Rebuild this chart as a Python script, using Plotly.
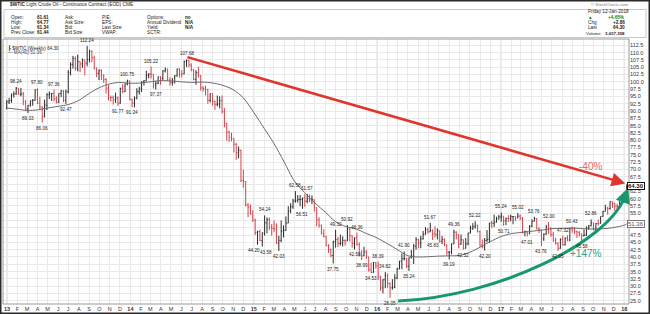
import plotly.graph_objects as go
import pandas as pd

W, H = 650, 314

# ---------------- data (weekly bars, Monday dates) ----------------
first_week = "2012-12-31"

open_ = [
    90.8,
    93.1, 93.6, 95.5, 95.9, 97.8, 95.7, 95.9, 93.1, 90.7, 92.0, 93.4, 93.7, 97.2, 92.7, 91.3, 88.0, 92.0, 95.6, 96.0, 96.0, 94.2, 92.9, 96.0, 96.9, 93.7, 96.6,
    103.2, 106.0, 108.0, 104.7, 106.9, 106.1, 107.5, 106.4, 107.7, 110.5, 108.2, 104.7, 102.9, 103.8, 102.0, 100.8, 97.8, 94.6, 94.6, 93.8, 94.4, 92.7, 97.7, 96.6, 99.3, 100.3,
    94.0, 92.7, 94.4, 96.6, 97.5, 99.9, 100.3, 102.2, 102.6, 102.6, 98.9, 99.5, 101.7, 101.1, 103.7, 104.3, 100.6, 99.8, 100.0, 102.0, 104.4, 102.7, 102.7, 106.9, 107.3, 105.7,
    104.1, 100.8, 103.1, 102.1, 97.9, 97.6, 97.4, 93.6, 96.0, 93.3, 92.3, 92.4, 93.5, 89.7, 85.8, 82.8, 81.0, 80.5, 78.6, 75.8, 76.5, 66.2, 65.8, 57.8, 57.1, 54.7,
    52.7, 48.4, 48.7, 45.6, 48.2, 51.7, 52.8, 50.3, 49.8, 49.6, 44.8, 45.7, 48.9, 49.1, 51.6, 55.7, 57.2, 59.2, 59.4, 59.7, 59.7, 60.3, 59.1, 60.0, 59.6, 59.6,
    56.9, 52.7, 50.9, 48.1, 47.1, 43.9, 42.5, 40.5, 45.2, 46.0, 44.6, 44.7, 45.7, 45.5, 49.6, 47.3, 44.6, 46.6, 44.3, 40.7, 40.4, 41.7, 40.0, 35.6, 34.7, 38.1,
    37.0, 33.2, 29.4, 32.2, 33.6, 30.9, 29.4, 29.6, 32.8, 35.9, 38.5, 39.4, 39.5, 36.8, 39.7, 40.4, 43.7, 45.9, 44.7, 46.2, 47.8, 49.3, 48.6, 49.1, 48.0, 47.6,
    49.0, 45.4, 46.0, 44.2, 41.6, 41.8, 44.5, 48.5, 47.6, 44.4, 45.9, 43.0, 44.5, 48.2, 49.8, 50.4, 50.9, 48.7, 44.1, 43.4, 45.7, 46.1, 51.7, 51.5, 51.9, 53.0,
    53.7, 54.0, 52.4, 53.2, 53.2, 53.8, 53.9, 53.4, 54.0, 53.3, 48.5, 48.8, 48.0, 50.6, 52.2, 53.2, 49.6, 49.3, 46.2, 47.8, 50.3, 49.8, 47.7, 45.8, 44.7, 43.0,
    46.0, 44.2, 46.5, 45.8, 49.7, 49.6, 48.8, 48.5, 47.9, 47.3, 47.5, 49.9, 50.7, 51.7, 49.3, 51.5, 51.5, 53.9, 55.6, 56.7, 56.6, 58.9, 58.4, 57.4, 57.3, 58.5,
    60.4, 61.61,
]
high = [
    93.8,
    94.5, 96.0, 96.7, 98.24, 97.8, 97.9, 96.5, 93.8, 92.0, 93.6, 94.1, 97.4, 97.80, 94.9, 91.6, 93.9, 96.1, 96.7, 96.1, 97.36, 95.0, 96.0, 97.2, 97.1, 97.3, 104.0,
    106.7, 108.9, 108.7, 109.3, 107.0, 108.0, 107.5, 112.24, 111.0, 110.7, 108.9, 104.9, 104.3, 104.3, 102.6, 101.3, 98.9, 95.3, 95.3, 96.3, 95.0, 98.0, 99.2, 99.4, 100.75, 100.4,
    94.2, 95.0, 97.8, 98.3, 100.2, 100.6, 103.8, 103.0, 105.22, 102.6, 100.3, 101.8, 101.9, 104.0, 104.9, 104.5, 101.6, 101.3, 102.3, 104.5, 104.6, 104.0, 107.3, 107.68, 107.5, 106.3,
    104.4, 104.0, 105.2, 102.3, 98.5, 98.7, 97.6, 96.0, 96.0, 93.6, 95.3, 95.0, 95.3, 91.0, 86.0, 83.3, 82.6, 80.6, 79.1, 77.8, 76.8, 69.9, 66.0, 58.5, 58.0, 56.0,
    53.1, 49.0, 49.3, 48.4, 54.24, 53.6, 53.5, 51.3, 52.5, 51.5, 47.3, 52.5, 50.8, 53.9, 57.4, 58.4, 59.9, 62.58, 61.2, 61.2, 60.3, 61.5, 61.57, 61.4, 61.1, 59.7,
    57.0, 53.6, 51.1, 49.5, 47.2, 44.4, 42.9, 45.6, 49.32, 46.9, 47.7, 47.1, 46.0, 50.92, 49.8, 47.4, 46.7, 48.36, 45.0, 42.3, 43.5, 42.4, 40.0, 38.0, 38.3, 38.2,
    38.39, 33.6, 32.4, 34.82, 34.3, 31.3, 32.4, 34.1, 36.3, 38.7, 41.2, 41.90, 39.7, 39.8, 42.4, 44.5, 46.8, 46.2, 47.3, 48.9, 50.21, 50.0, 51.67, 49.4, 50.5, 49.8,
    49.0, 47.2, 46.4, 44.3, 42.0, 44.6, 49.36, 48.8, 47.8, 47.7, 46.0, 46.5, 48.3, 50.7, 51.6, 52.22, 51.0, 49.0, 46.0, 46.5, 49.2, 51.7, 52.4, 54.5, 53.8, 54.4,
    55.24, 54.0, 53.5, 54.3, 54.5, 54.0, 53.9, 55.02, 54.6, 53.7, 49.0, 48.9, 50.9, 52.9, 53.76, 53.3, 50.2, 49.3, 48.1, 51.0, 52.00, 50.2, 48.6, 46.6, 45.0, 46.4,
    47.32, 46.7, 47.4, 50.0, 50.43, 50.2, 49.0, 48.8, 48.0, 49.4, 50.5, 51.0, 52.86, 51.7, 51.6, 52.8, 53.9, 55.8, 57.9, 57.2, 59.0, 59.0, 58.5, 58.2, 59.1, 60.5,
    62.2, 64.77,
]
low = [
    90.6,
    92.4, 92.8, 94.6, 95.5, 95.7, 95.0, 92.0, 90.1, 89.33, 91.5, 91.8, 93.5, 92.4, 90.3, 86.06, 87.8, 90.3, 94.1, 93.4, 93.3, 92.6, 92.7, 94.8, 93.0, 92.47, 96.0,
    102.2, 104.5, 103.8, 103.6, 103.3, 104.8, 102.2, 105.3, 106.6, 106.7, 104.2, 101.6, 100.6, 100.6, 99.6, 96.0, 93.6, 93.2, 92.2, 92.8, 91.77, 92.5, 96.1, 96.5, 98.8, 93.6,
    91.24, 91.3, 94.0, 95.6, 96.5, 98.7, 100.2, 101.2, 101.1, 97.7, 97.37, 99.2, 99.0, 100.6, 103.2, 100.5, 98.7, 98.7, 99.4, 101.8, 101.4, 101.5, 102.6, 105.1, 105.0, 103.6,
    100.5, 99.0, 101.4, 97.0, 96.6, 95.3, 92.5, 92.9, 91.8, 90.4, 91.6, 90.9, 89.2, 84.4, 79.8, 79.4, 79.6, 75.8, 73.3, 73.8, 65.7, 63.7, 57.3, 53.6, 54.5, 52.0,
    47.5, 44.20, 45.5, 43.58, 47.3, 48.1, 49.2, 47.3, 48.6, 44.4, 42.03, 45.0, 46.7, 49.0, 51.6, 55.0, 56.5, 58.6, 58.6, 57.4, 56.51, 57.2, 58.4, 58.8, 58.1, 55.6,
    50.5, 50.1, 47.7, 46.7, 43.7, 41.4, 39.9, 37.75, 43.2, 43.4, 43.9, 43.6, 43.9, 45.5, 45.3, 43.2, 42.58, 43.9, 40.2, 38.99, 40.3, 39.4, 35.0, 34.53, 34.6, 36.0,
    32.1, 28.4, 27.56, 29.3, 29.5, 26.05, 28.8, 29.3, 32.4, 35.8, 35.8, 38.8, 36.2, 35.24, 39.5, 37.6, 42.5, 43.0, 43.0, 46.0, 47.6, 48.0, 48.5, 45.83, 46.7, 46.0,
    44.9, 44.4, 43.7, 40.6, 39.19, 40.9, 44.4, 46.0, 43.0, 44.2, 42.52, 42.9, 44.0, 48.1, 49.3, 49.7, 48.4, 43.6, 43.0, 42.20, 45.1, 44.8, 49.9, 50.3, 51.8, 52.9,
    52.1, 50.71, 50.9, 52.0, 52.2, 51.2, 52.3, 53.3, 52.6, 48.0, 47.1, 47.01, 47.8, 50.2, 52.2, 49.4, 48.2, 43.76, 45.5, 47.6, 47.9, 46.9, 45.2, 44.2, 42.05, 42.8,
    43.8, 43.9, 45.4, 45.4, 48.3, 47.8, 46.5, 47.0, 45.58, 47.1, 47.2, 49.3, 50.5, 49.1, 49.2, 50.7, 51.4, 53.8, 55.6, 54.5, 56.2, 56.8, 55.8, 56.1, 56.8, 58.1,
    59.9, 61.34,
]
close = [
    93.09,
    93.56, 95.56, 95.88, 97.77, 95.72, 95.86, 93.13, 90.68, 91.95, 93.45, 93.71, 97.23, 92.70, 91.29, 88.01, 92.00, 95.61, 96.04, 96.02, 94.15, 92.90, 96.03, 96.90, 93.69, 96.56, 103.22,
    105.95, 108.05, 104.70, 106.94, 106.10, 107.46, 106.42, 107.65, 110.53, 108.21, 104.67, 102.87, 103.84, 102.02, 100.81, 97.85, 94.61, 94.60, 93.84, 94.44, 92.72, 97.65, 96.60, 99.32, 100.32, 93.96,
    92.72, 94.37, 96.64, 97.49, 99.88, 100.30, 102.20, 102.59, 102.58, 98.89, 99.46, 101.67, 101.14, 103.74, 104.30, 100.60, 99.76, 99.99, 102.02, 104.35, 102.71, 102.66, 106.91, 107.26, 105.74, 104.06,
    100.83, 103.13, 102.09, 97.88, 97.65, 97.35, 93.65, 95.96, 93.29, 92.27, 92.41, 93.54, 89.74, 85.82, 82.75, 81.01, 80.54, 78.65, 75.82, 76.51, 66.15, 65.84, 57.81, 57.13, 54.73, 52.69,
    48.36, 48.69, 45.59, 48.24, 51.69, 52.78, 50.34, 49.76, 49.61, 44.84, 45.72, 48.87, 49.14, 51.64, 55.74, 57.15, 59.15, 59.39, 59.69, 59.72, 60.30, 59.13, 59.96, 59.61, 59.63, 56.93,
    52.74, 50.89, 48.14, 47.12, 43.87, 42.50, 40.45, 45.22, 46.05, 44.63, 44.68, 45.70, 45.54, 49.63, 47.26, 44.60, 46.59, 44.29, 40.74, 40.39, 41.71, 39.97, 35.62, 34.73, 38.10, 37.04,
    33.16, 29.42, 32.19, 33.62, 30.89, 29.44, 29.64, 32.78, 35.92, 38.50, 39.44, 39.46, 36.79, 39.72, 40.36, 43.73, 45.92, 44.66, 46.21, 47.75, 49.33, 48.62, 49.07, 47.98, 47.64, 48.99,
    45.41, 45.95, 44.19, 41.60, 41.80, 44.49, 48.52, 47.64, 44.44, 45.88, 43.03, 44.48, 48.24, 49.81, 50.35, 50.85, 48.70, 44.07, 43.41, 45.69, 46.06, 51.68, 51.50, 51.90, 53.02, 53.72,
    53.99, 52.37, 53.22, 53.17, 53.83, 53.86, 53.40, 53.99, 53.33, 48.49, 48.78, 47.97, 50.60, 52.24, 53.18, 49.62, 49.33, 46.22, 47.84, 50.33, 49.80, 47.66, 45.83, 44.74, 43.01, 46.04,
    44.23, 46.54, 45.77, 49.71, 49.58, 48.82, 48.51, 47.87, 47.29, 47.48, 49.89, 50.66, 51.67, 49.29, 51.45, 51.47, 53.90, 55.64, 56.74, 56.55, 58.95, 58.36, 57.36, 57.30, 58.47, 60.42,
    61.44, 64.30,
]

# 40-week moving average (month starts)
ma_dates = [
    "2013-01-01", "2013-02-01", "2013-03-01", "2013-04-01", "2013-05-01", "2013-06-01", "2013-07-01", "2013-08-01", "2013-09-01", "2013-10-01", "2013-11-01", "2013-12-01",
    "2014-01-01", "2014-02-01", "2014-03-01", "2014-04-01", "2014-05-01", "2014-06-01", "2014-07-01", "2014-08-01", "2014-09-01", "2014-10-01", "2014-11-01", "2014-12-01",
    "2015-01-01", "2015-02-01", "2015-03-01", "2015-04-01", "2015-05-01", "2015-06-01", "2015-07-01", "2015-08-01", "2015-09-01", "2015-10-01", "2015-11-01", "2015-12-01",
    "2016-01-01", "2016-02-01", "2016-03-01", "2016-04-01", "2016-05-01", "2016-06-01", "2016-07-01", "2016-08-01", "2016-09-01", "2016-10-01", "2016-11-01", "2016-12-01",
    "2017-01-01", "2017-02-01", "2017-03-01", "2017-04-01", "2017-05-01", "2017-06-01", "2017-07-01", "2017-08-01", "2017-09-01", "2017-10-01", "2017-11-01", "2017-12-01",
    "2018-01-01", "2018-01-08",
]
ma_values = [
    91.0, 90.6, 90.2, 90.4, 91.0, 91.6, 92.2, 93.6, 96.0, 98.0, 99.3, 99.8,
    99.5, 99.6, 100.0, 100.4, 100.3, 100.0, 99.8, 99.9, 99.6, 98.8, 97.3, 94.5,
    89.5, 84.0, 79.0, 72.5, 66.0, 62.0, 58.5, 55.3, 52.0, 50.4, 49.5, 48.0,
    46.5, 44.5, 42.5, 40.4, 40.0, 40.1, 40.3, 40.4, 40.5, 41.6, 43.4, 45.3,
    47.0, 48.0, 48.4, 48.8, 49.2, 49.7, 49.8, 49.9, 49.7, 49.6, 49.7, 50.1,
    50.9, 51.36,
]

# swing-point price labels: week, value, 'h' (above high) or 'l' (below low)
label_weeks = [
    "2013-01-28", "2013-03-04", "2013-04-01", "2013-04-15", "2013-05-20", "2013-06-24", "2013-08-26", "2013-11-25", "2013-12-23",
    "2014-01-06", "2014-03-03", "2014-03-17", "2014-06-16",
    "2015-01-12", "2015-01-26", "2015-02-02", "2015-03-16", "2015-05-04", "2015-05-25", "2015-06-08", "2015-08-24", "2015-08-31",
    "2015-10-05", "2015-10-26", "2015-11-02", "2015-11-16", "2015-12-14",
    "2016-01-04", "2016-01-25", "2016-02-08", "2016-03-21", "2016-04-04", "2016-06-06", "2016-06-13", "2016-08-01", "2016-08-15",
    "2016-09-12", "2016-10-17", "2016-11-14",
    "2017-01-02", "2017-01-09", "2017-02-20", "2017-03-20", "2017-04-10", "2017-05-01", "2017-05-22", "2017-06-19", "2017-07-03",
    "2017-07-31", "2017-08-28", "2017-09-25",
]
label_values = [
    98.24, 89.33, 97.80, 86.06, 97.36, 92.47, 112.24, 91.77, 100.75,
    91.24, 105.22, 97.37, 107.68,
    44.20, 43.58, 54.24, 42.03, 62.58, 56.51, 61.57, 37.75, 49.32,
    50.92, 42.58, 48.36, 38.99, 34.53,
    38.39, 34.82, 26.05, 41.90, 35.24, 51.67, 45.83, 39.19, 49.36,
    42.52, 52.22, 42.20,
    55.24, 50.71, 55.02, 47.01, 53.76, 43.76, 52.00, 42.05, 47.32,
    50.43, 45.58, 52.86,
]
label_side = [
    "h", "l", "h", "l", "h", "l", "h", "l", "h",
    "l", "h", "l", "h",
    "l", "l", "h", "l", "h", "l", "h", "l", "h",
    "h", "l", "h", "l", "l",
    "h", "h", "l", "h", "l", "h", "l", "l", "h",
    "l", "h", "l",
    "h", "l", "h", "l", "h", "l", "h", "l", "h",
    "h", "l", "h",
]
label_nudge = {"2015-01-12": -4, "2015-01-26": 4}

y_ticks = [25.0, 27.5, 30.0, 32.5, 35.0, 37.5, 40.0, 42.5, 45.0, 47.5, 50.0, 52.5, 55.0, 57.5,
           60.0, 62.5, 65.0, 67.5, 70.0, 72.5, 75.0, 77.5, 80.0, 82.5, 85.0, 87.5, 90.0, 92.5,
           95.0, 97.5, 100.0, 102.5, 105.0, 107.5, 110.0, 112.5]
y_ticks_hidden = [50.0, 52.5, 65.0]
month_letters = ["J", "F", "M", "A", "M", "J", "J", "A", "S", "O", "N", "D"]
year_labels = {2013: "13", 2014: "14", 2015: "15", 2016: "16", 2017: "17", 2018: "18"}

last_close = 64.30
last_ma = 51.36

# ---------------- figure ----------------
n = len(close)
assert len(open_) == n and len(high) == n and len(low) == n, (len(open_), len(high), len(low), n)
weeks = pd.date_range(first_week, periods=n, freq="7D")

FONT = "Arial, Liberation Sans, sans-serif"

def fx(px):
    return px / W

def fy(py):
    return 1 - py / H

X0, X1 = 3, 629
Y0, Y1 = 39, 304

fig = go.Figure()
fig.add_trace(go.Ohlc(
    x=weeks, open=open_, high=high, low=low, close=close,
    increasing=dict(line=dict(color="#2a2a2a", width=1)),
    decreasing=dict(line=dict(color="#d8404a", width=1)),
    tickwidth=0.35, showlegend=False, hoverinfo="skip",
))
fig.add_trace(go.Scatter(
    x=ma_dates, y=ma_values, mode="lines",
    line=dict(color="#6a6a6a", width=1, shape="spline", smoothing=0.8),
    showlegend=False, hoverinfo="skip",
))

month_starts = pd.date_range("2013-01-01", "2018-01-01", freq="MS")
tick_text = []
for d in month_starts:
    if d.month == 1:
        tick_text.append("<b>" + year_labels[d.year] + "</b>")
    else:
        tick_text.append(month_letters[d.month - 1])

shapes = []
for yr in year_labels:
    shapes.append(dict(type="line", xref="x", yref="paper", x0=f"{yr}-01-01", x1=f"{yr}-01-01",
                       y0=fy(Y1), y1=fy(Y0), line=dict(color="#d2d2d2", width=1), layer="below"))
shapes.append(dict(type="rect", xref="paper", yref="paper", x0=fx(X0), x1=fx(X1), y0=fy(Y1), y1=fy(Y0),
                   line=dict(color="#9a9a9a", width=1)))
shapes.append(dict(type="rect", xref="paper", yref="paper", x0=fx(4), x1=fx(646), y0=fy(37.5), y1=fy(9.5),
                   line=dict(color="#c8c8c8", width=1)))
shapes.append(dict(type="rect", xref="paper", yref="paper", x0=0, x1=1, y0=0, y1=1,
                   line=dict(color="#2a2a2a", width=3)))
shapes.append(dict(type="path", xref="x", yref="y",
                   path="M 2016-03-03,24.9 C 2016-12-30,26.6 2017-11-09,45.1 2018-01-01,60.2",
                   line=dict(color="#17976f", width=3)))

ann = []
for d, v, s in zip(label_weeks, label_values, label_side):
    ann.append(dict(x=d, y=v, xref="x", yref="y", text=f"{v:.2f}", showarrow=False,
                    yanchor="bottom" if s == "h" else "top", yshift=1 if s == "h" else -1,
                    xshift=label_nudge.get(d, 0),
                    font=dict(size=4.6, color="#222222", family=FONT)))

ann.append(dict(x="2018-01-04", y=65.2, xref="x", yref="y", ax="2014-06-14", ay=108.6,
                axref="x", ayref="y", showarrow=True, arrowhead=2, arrowsize=1.1,
                arrowwidth=2.5, arrowcolor="#e0342c", text=""))
ann.append(dict(x=fx(603.5), y=fy(166.5), xref="paper", yref="paper", text="-40%", showarrow=False,
                font=dict(size=10, color="#e8655c", family=FONT)))
ann.append(dict(x="2018-01-12", y=63.6, xref="x", yref="y", ax="2018-01-01", ay=60.0,
                axref="x", ayref="y", showarrow=True, arrowhead=2, arrowsize=1.0,
                arrowwidth=3, arrowcolor="#17976f", text=""))
ann.append(dict(x=fx(604), y=fy(260.5), xref="paper", yref="paper", text="+147%", showarrow=False,
                font=dict(size=10, color="#2f9f82", family=FONT)))

ann.append(dict(x=fx(627), y=last_close, xref="paper", yref="y", text=f"<b>{last_close:.2f}</b>",
                showarrow=False, xanchor="left", bgcolor="white", bordercolor="#111111", borderwidth=1,
                borderpad=0, font=dict(size=6, color="#111111", family=FONT)))
ann.append(dict(x=fx(627), y=last_ma, xref="paper", yref="y", text=f"{last_ma:.2f}",
                showarrow=False, xanchor="left", bgcolor="white", bordercolor="#777777", borderwidth=1,
                borderpad=0, font=dict(size=6, color="#555555", family=FONT)))

ann.append(dict(x=fx(6), y=fy(42.5), xref="paper", yref="paper", xanchor="left",
                text=f"\u2520 $WTIC (Weekly) {last_close:.2f}", showarrow=False,
                font=dict(size=4.6, color="#222222", family=FONT)))
ann.append(dict(x=fx(6), y=fy(47.5), xref="paper", yref="paper", xanchor="left",
                text=f"\u2014 MA(40) {last_ma:.2f}", showarrow=False,
                font=dict(size=4.6, color="#444444", family=FONT)))

def htext(px, py, text, anchor="left", size=4.7, color="#222222"):
    ann.append(dict(x=fx(px), y=fy(py), xref="paper", yref="paper", xanchor=anchor, yanchor="middle",
                    text=text, showarrow=False, font=dict(size=size, color=color, family=FONT)))

htext(8, 5, "<b>$WTIC</b> Light Crude Oil - Continuous Contract (EOD) CME", size=4.8)
rows_y = [17.5, 22.5, 27.5, 33]
col1 = ["Open:", "High:", "Low:", "Prev Close:"]
col1v = ["61.61", "64.77", "61.34", "61.44"]
col2 = ["Ask:", "Ask Size:", "Bid:", "Bid Size:"]
col3 = ["P/E:", "EPS:", "Last Size:", "VWAP:"]
col4 = ["Options:", "Annual Dividend", "Yield:", "SCTR:"]
col4v = ["no", "N/A", "N/A", ""]
for i, yy in enumerate(rows_y):
    htext(9, yy, col1[i])
    htext(35, yy, "<b>" + col1v[i] + "</b>")
    htext(63, yy, col2[i])
    htext(100, yy, col3[i])
    htext(145, yy, col4[i])
    if col4v[i]:
        htext(183, yy, "<b>" + col4v[i] + "</b>")

htext(630, 5, "\u00a9 StockCharts.com", anchor="right", size=4.3, color="#777777")
htext(586, 12, "Friday 12-Jan-2018")
htext(586, 17.5, "\u25b2", size=4.7, color="#1a7f1a")
htext(627, 17.5, "<b>+4.65%</b>", anchor="right", color="#1a7f1a")
htext(586, 22.8, "Chg")
htext(627, 22.8, "<b>+2.86</b>", anchor="right")
htext(586, 28, "Last")
htext(627, 28, "<b>64.30</b>", anchor="right")
htext(584, 33.3, "Volume", size=4.4)
htext(627, 33.3, "<b>3,637,358</b>", anchor="right", size=4.4)

fig.update_layout(
    width=W, height=H, margin=dict(l=0, r=0, t=0, b=0),
    paper_bgcolor="white", plot_bgcolor="white",
    font=dict(family=FONT, size=6, color="#222222"),
    shapes=shapes, annotations=ann, showlegend=False,
    xaxis=dict(
        type="date", domain=[fx(X0), fx(X1)], range=["2012-12-20", "2018-01-15"],
        tickvals=list(month_starts), ticktext=tick_text, ticks="", tickangle=0,
        tickfont=dict(size=5.5, color="#333333"), showgrid=True, gridcolor="#e9e9e9", gridwidth=1,
        zeroline=False, showline=False, rangeslider=dict(visible=False), fixedrange=True,
    ),
    yaxis=dict(
        domain=[fy(Y1), fy(Y0)], range=[23.9, 114.66], side="right",
        tickvals=y_ticks,
        ticktext=["" if v in y_ticks_hidden else f"{v:.1f}" for v in y_ticks], ticks="",
        tickfont=dict(size=5.5, color="#333333"), showgrid=True, gridcolor="#e9e9e9", gridwidth=1,
        zeroline=False, showline=False, fixedrange=True,
    ),
)

fig.write_html("out.html")
